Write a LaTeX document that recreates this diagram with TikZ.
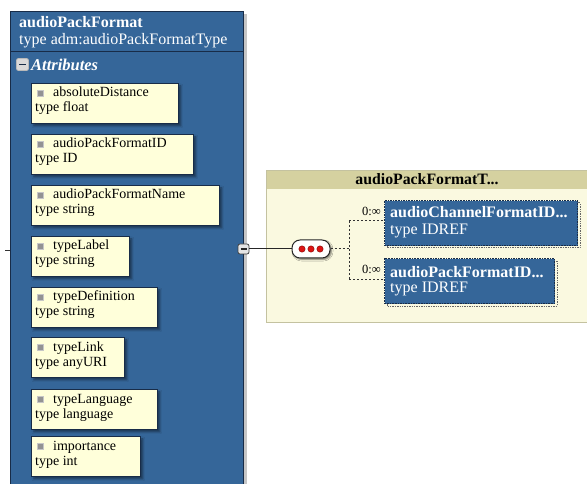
\documentclass[tikz,border=0pt]{standalone}
\usepackage{fontspec}
\setmainfont{Liberation Serif}
\usetikzlibrary{shadows.blur}
\definecolor{elblue}{RGB}{53,102,153}
\definecolor{elborder}{RGB}{24,44,72}
\definecolor{attrfill}{RGB}{255,255,218}
\definecolor{panelhead}{RGB}{213,209,160}
\definecolor{panelbody}{RGB}{250,249,224}
\definecolor{panelline}{RGB}{196,194,160}
\definecolor{dotred}{RGB}{220,20,20}

\tikzset{
  mainbox/.style={draw=elborder, fill=elblue, line width=1pt, inner sep=0pt, anchor=north west},
  attrbox/.style={draw=elborder, fill=attrfill, line width=0.8pt, inner sep=0pt, anchor=north west,
    minimum height=40pt,
    blur shadow={shadow xshift=2.5pt, shadow yshift=-2.5pt, shadow blur radius=2pt, shadow opacity=45}},
  attricon/.style={fill=gray!85, draw=gray!45, line width=0.4pt, minimum size=6pt, inner sep=0pt},
  attrtext/.style={anchor=base west, inner sep=0pt, font=\fontsize{14}{16}\selectfont, text=black},
  headtext/.style={anchor=base west, inner sep=0pt, font=\fontsize{16}{18}\selectfont, text=white},
  elbox/.style={draw=elborder, fill=elblue, line width=1.1pt, dash pattern=on 1.6pt off 1pt,
    inner sep=0pt, anchor=north west, minimum height=45pt},
  elshadow/.style={draw=gray!80!black, line width=1pt, dash pattern=on 1.4pt off 1pt},
  eltext/.style={anchor=base west, inner sep=0pt, font=\fontsize{16}{18}\selectfont, text=white},
  cardtext/.style={anchor=base east, inner sep=0pt, font=\fontsize{12.5}{14}\selectfont},
  dotline/.style={draw=gray!40!black, line width=1pt, dash pattern=on 2pt off 2pt},
}

% an attribute box: name, top, width, attribute name, attribute type
\newcommand\attrbox[5]{%
  \node[attrbox, minimum width=#3pt] (#1) at (31,#2) {};
  \node[attricon] (#1-i) at ([xshift=9.5pt,yshift=-10.5pt]#1.north west) {};
  \node[attrtext] (#1-n) at ([xshift=22pt,yshift=-14pt]#1.north west) {#4};
  \node[attrtext] (#1-t) at ([xshift=4pt,yshift=-29pt]#1.north west) {#5};
}

\begin{document}
\begin{tikzpicture}[x=1pt,y=-1pt]
\useasboundingbox (0,0) rectangle (587,484);

% element audioPackFormat
\fill[gray!45] (243,14) rectangle (247,490);
\node[mainbox, minimum width=233pt, minimum height=480pt] (apf) at (10,11) {};
\draw[elborder, line width=1pt] (10,52) -- (243,52);
\node[headtext, font=\fontsize{16}{18}\selectfont\bfseries] (apf-name) at (19,28) {audioPackFormat};
\node[headtext] (apf-type) at (19,45) {type adm:audioPackFormatType};

% attributes group
\node[draw=gray!55, fill=gray!30, rounded corners=2pt, line width=0.8pt,
      minimum width=12pt, minimum height=12pt, inner sep=0pt] (attr-toggle) at (22.5,64.5) {};
\draw[elborder, line width=1.5pt] ([xshift=-3.5pt]attr-toggle.center) -- ([xshift=3.5pt]attr-toggle.center);
\node[headtext, font=\fontsize{16.5}{18}\selectfont\bfseries\itshape] (attr-title) at (31,71) {Attributes};

\attrbox{a1}{83}{147}{absoluteDistance}{type float}
\attrbox{a2}{134}{162}{audioPackFormatID}{type ID}
\attrbox{a3}{185}{188}{audioPackFormatName}{type string}
\attrbox{a4}{236}{98}{typeLabel}{type string}
\attrbox{a5}{287}{126}{typeDefinition}{type string}
\attrbox{a6}{337}{93}{typeLink}{type anyURI}
\attrbox{a7}{389}{126}{typeLanguage}{type language}
\attrbox{a8}{436}{109}{importance}{type int}

% incoming stub on the left
\coordinate (stub) at (5,250);
\draw[gray!40!black, line width=0.8pt] (stub) -- (apf.west |- stub);

% complex type panel
\node[draw=panelline, fill=panelbody, line width=0.8pt, anchor=north west,
      minimum width=322pt, minimum height=152pt, inner sep=0pt] (ct) at (266,170) {};
\node[fill=panelhead, anchor=north west, minimum width=321pt, minimum height=18pt, inner sep=0pt]
      (ct-head) at (266.4,170.4) {};
\node[anchor=base, inner sep=0pt, font=\fontsize{15.8}{17}\selectfont\bfseries] (ct-title) at (427,185) {audioPackFormatT...};

% content model connector
\node[draw=gray!50!black, fill=gray!20, rounded corners=2pt, line width=0.8pt,
      minimum width=11pt, minimum height=10pt, inner sep=0pt] (toggle) at (243.5,249) {};
\draw[gray!30!black, line width=1.2pt] ([xshift=-3pt]toggle.center) -- ([xshift=3pt]toggle.center);
\node[draw=black!85, fill=white, rounded corners=8pt, line width=1pt,
      minimum width=38pt, minimum height=18pt, inner sep=0pt,
      blur shadow={shadow xshift=1.5pt, shadow yshift=-1.5pt, shadow blur radius=1.5pt, shadow opacity=50}]
      (seq) at (311,249) {};
\foreach \dx in {-9,0,9}
  \fill[dotred, draw=red!50!black, line width=0.4pt] ([xshift=\dx pt]seq.center) circle (3.2pt);
\draw[gray!30!black, line width=1pt] (toggle.east) -- (seq.west);

% child elements
\draw[elshadow] (387,203) rectangle (580,248);
\node[elbox, minimum width=193pt] (ch1) at (384,200) {};
\node[eltext, font=\fontsize{16}{18}\selectfont\bfseries] (ch1-name) at (390,218) {audioChannelFormatID...};
\node[eltext] (ch1-type) at (390,234) {type IDREF};

\draw[elshadow] (387,261) rectangle (557,306);
\node[elbox, minimum width=170pt] (ch2) at (384,258) {};
\node[eltext, font=\fontsize{16}{18}\selectfont\bfseries] (ch2-name) at (390,277) {audioPackFormatID...};
\node[eltext] (ch2-type) at (390,292) {type IDREF};

\coordinate (junction) at (349,249);
\coordinate (branch1) at (349,221);
\coordinate (branch2) at (349,279);
\draw[dotline] (seq.east) -- (junction);
\draw[dotline] (branch1) -- (branch2);
\draw[dotline] (branch1) -- (ch1.west |- branch1);
\draw[dotline] (branch2) -- (ch2.west |- branch2);
\node[cardtext] (card1) at (381,215) {0:∞};
\node[cardtext] (card2) at (381,273) {0:∞};
\end{tikzpicture}
\end{document}
